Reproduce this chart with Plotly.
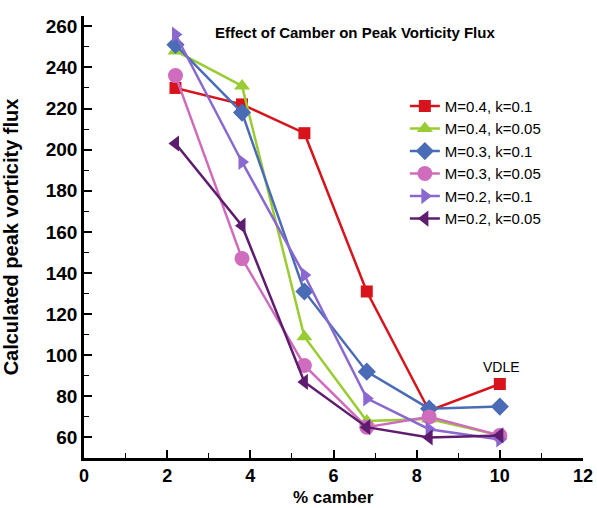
import plotly.graph_objects as go

# % camber stations
camber = [2.2, 3.8, 5.3, 6.8, 8.3, 10.0]

# Calculated peak vorticity flux for each Mach number / reduced frequency case
flux_m04_k010 = [230, 222, 208, 131, 73, 86]
flux_m04_k005 = [248, 231, 109, 68, 69, 61]
flux_m03_k010 = [251, 218, 131, 92, 74, 75]
flux_m03_k005 = [236, 147, 95, 65, 70, 61]
flux_m02_k010 = [256, 194, 139, 79, 64, 59]
flux_m02_k005 = [203, 163, 87, 65, 60, 61]

series = [
    ("M=0.4, k=0.1", flux_m04_k010, "#d7141c", "square", 12),
    ("M=0.4, k=0.05", flux_m04_k005, "#99cc33", "triangle-up", 14),
    ("M=0.3, k=0.1", flux_m03_k010, "#4a6cb6", "diamond", 14),
    ("M=0.3, k=0.05", flux_m03_k005, "#cf6cbd", "circle", 15),
    ("M=0.2, k=0.1", flux_m02_k010, "#8a68cf", "triangle-right", 14),
    ("M=0.2, k=0.05", flux_m02_k005, "#5e1c6e", "triangle-left", 14),
]

fig = go.Figure()
for name, vals, color, symbol, size in series:
    fig.add_trace(go.Scatter(
        x=camber, y=vals, name=name, mode="lines+markers",
        line=dict(color=color, width=2.5),
        marker=dict(symbol=symbol, size=size, color=color, line=dict(width=0)),
    ))

font_family = "Liberation Sans, Arial, sans-serif"

fig.add_annotation(
    x=camber[-1], y=flux_m04_k010[-1], xref="x", yref="y",
    text="VDLE", showarrow=False, yshift=17, xshift=2,
    font=dict(family=font_family, size=14, color="black"),
)

# chart heading inside the plot area
fig.add_annotation(
    x=0.543, y=0.962, xref="paper", yref="paper", yanchor="middle",
    text="<b>Effect of Camber on Peak Vorticity Flux</b>", showarrow=False,
    font=dict(family=font_family, size=15, color="black"),
)

# x-axis title anchored to the bottom edge of the figure
fig.add_annotation(
    x=0.5, y=0, xref="paper", yref="paper", xanchor="center", yanchor="bottom",
    yshift=-50, borderpad=0,
    text="<b>% camber</b>", showarrow=False,
    font=dict(family=font_family, size=17, color="black"),
)

axis_common = dict(
    showline=True, linecolor="black", linewidth=2.5,
    ticks="inside", ticklen=8, tickwidth=2, tickcolor="black",
    showgrid=False, zeroline=False, mirror=False, automargin=False,
)

fig.update_xaxes(
    range=[0, 12], dtick=2, tick0=0,
    tickfont=dict(family=font_family, size=18, color="black", weight="bold"),
    minor=dict(ticks="inside", ticklen=5, tickwidth=1, tickcolor="black", dtick=1),
    **axis_common,
)
fig.update_yaxes(
    range=[50, 265], dtick=20, tick0=0,
    title=dict(text="<b>Calculated peak vorticity flux</b>", font=dict(family=font_family, size=20, color="black"), standoff=23),
    tickfont=dict(family=font_family, size=19, color="black", weight="bold"),
    minor=dict(ticks="inside", ticklen=5, tickwidth=1, tickcolor="black", dtick=10),
    **axis_common,
)

fig.update_layout(
    width=597, height=508,
    margin=dict(l=84, r=14, t=16, b=50),
    paper_bgcolor="white", plot_bgcolor="white",
    showlegend=True,
    legend=dict(
        x=0.643, y=0.669, xanchor="left", yanchor="middle",
        bgcolor="rgba(0,0,0,0)", borderwidth=0,
        font=dict(family=font_family, size=15, color="black"),
        tracegroupgap=0,
    ),
)

fig.write_html("out.html")
